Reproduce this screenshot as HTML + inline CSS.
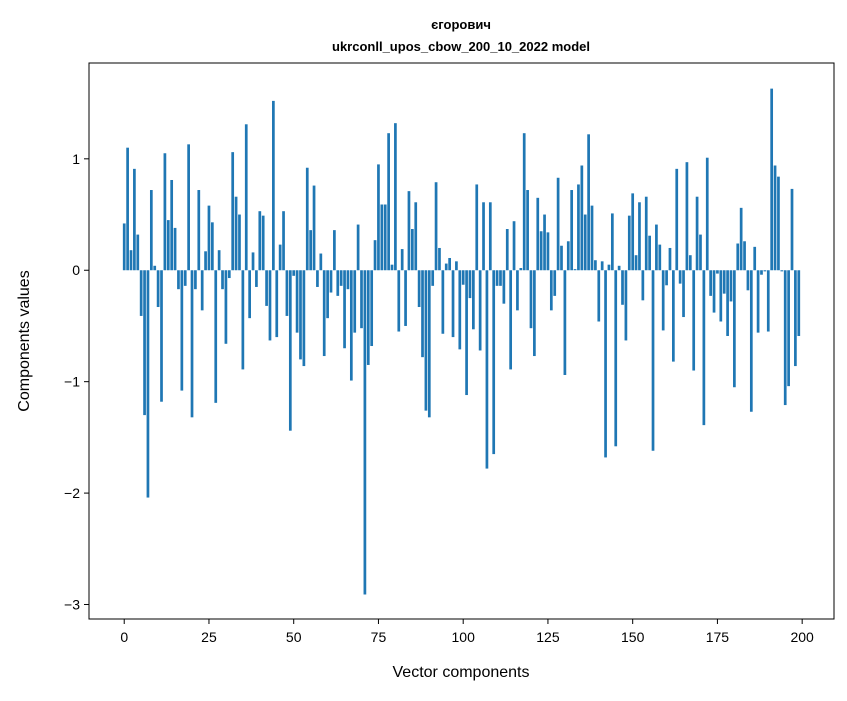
<!DOCTYPE html>
<html><head><meta charset="utf-8"><style>
body{margin:0;background:#fff;}
svg text{font-family:"Liberation Sans","DejaVu Sans",sans-serif;}
</style></head><body>
<svg id="chart" width="847" height="696" xmlns="http://www.w3.org/2000/svg">
<rect width="847" height="696" fill="#fff"/>
<text x="461" y="29" text-anchor="middle" font-size="13" font-weight="bold">єгорович</text>
<text x="461" y="51" text-anchor="middle" font-size="13" font-weight="bold">ukrconll_upos_cbow_200_10_2022 model</text>
<g id="bars"></g>
<rect x="89" y="63" width="745" height="556" fill="none" stroke="#000" stroke-width="1"/>
<g id="xticks"></g>
<g id="yticks"></g>
<text x="461" y="677" text-anchor="middle" font-size="16">Vector components</text>
<text transform="translate(29,341) rotate(-90)" text-anchor="middle" font-size="16">Components values</text>
</svg>
<script>
const values = [0.42,1.10,0.18,0.91,0.32,-0.41,-1.30,-2.04,0.72,0.04,
-0.33,-1.18,1.05,0.45,0.81,0.38,-0.17,-1.08,-0.14,1.13,
-1.32,-0.17,0.72,-0.36,0.17,0.58,0.43,-1.19,0.18,-0.17,
-0.66,-0.07,1.06,0.66,0.50,-0.89,1.31,-0.43,0.16,-0.15,
0.53,0.49,-0.32,-0.63,1.52,-0.60,0.23,0.53,-0.41,-1.44,
-0.05,-0.56,-0.80,-0.86,0.92,0.36,0.76,-0.15,0.15,-0.77,
-0.43,-0.20,0.36,-0.23,-0.14,-0.70,-0.17,-0.99,-0.56,0.41,
-0.52,-2.91,-0.85,-0.68,0.27,0.95,0.59,0.59,1.23,0.05,
1.32,-0.55,0.19,-0.50,0.71,0.37,0.61,-0.33,-0.78,-1.26,
-1.32,-0.14,0.79,0.20,-0.57,0.06,0.11,-0.60,0.08,-0.71,
-0.13,-1.12,-0.25,-0.53,0.77,-0.72,0.61,-1.78,0.61,-1.65,
-0.14,-0.14,-0.30,0.37,-0.89,0.44,-0.36,0.02,1.23,0.72,
-0.52,-0.77,0.65,0.35,0.50,0.34,-0.36,-0.23,0.83,0.22,
-0.94,0.26,0.72,0.01,0.77,0.94,0.50,1.22,0.58,0.09,
-0.46,0.08,-1.68,0.05,0.51,-1.58,0.04,-0.31,-0.63,0.49,
0.69,0.135,0.61,-0.27,0.66,0.31,-1.62,0.41,0.23,-0.54,
-0.135,0.20,-0.82,0.91,-0.12,-0.42,0.97,0.135,-0.90,0.66,
0.32,-1.39,1.01,-0.23,-0.38,-0.03,-0.46,-0.21,-0.59,-0.28,
-1.05,0.24,0.56,0.26,-0.18,-1.27,0.21,-0.56,-0.04,-0.01,
-0.55,1.63,0.94,0.84,-0.01,-1.21,-1.04,0.73,-0.86,-0.59];
const xTicks = [0,25,50,75,100,125,150,175,200];
const yTicks = [-3,-2,-1,0,1];
const yTickLabels = ["\u22123","\u22122","\u22121","0","1"];

const L=89,R=834,T=63,B=619;
const xMin=-10.39,xMax=209.39,yMin=-3.13,yMax=1.86;
const sx=v=>L+(v-xMin)/(xMax-xMin)*(R-L);
const sy=v=>T+(yMax-v)/(yMax-yMin)*(B-T);
const NS="http://www.w3.org/2000/svg";
const bars=document.getElementById('bars');
values.forEach((v,i)=>{
  const r=document.createElementNS(NS,'rect');
  const x0=sx(i-0.4),x1=sx(i+0.4);
  const y0=sy(Math.max(v,0)),y1=sy(Math.min(v,0));
  r.setAttribute('x',x0);r.setAttribute('width',x1-x0);
  r.setAttribute('y',y0);r.setAttribute('height',Math.max(y1-y0,0.3));
  r.setAttribute('fill','#1f77b4');
  
  
  bars.appendChild(r);
});
const xg=document.getElementById('xticks');
xTicks.forEach(t=>{
  const x=sx(t);
  const l=document.createElementNS(NS,'line');
  l.setAttribute('x1',x);l.setAttribute('x2',x);l.setAttribute('y1',B);l.setAttribute('y2',B+5);l.setAttribute('stroke','#000');
  
  
  xg.appendChild(l);
  const tx=document.createElementNS(NS,'text');
  tx.setAttribute('x',x);tx.setAttribute('y',B+23);tx.setAttribute('text-anchor','middle');tx.setAttribute('font-size','14');
  tx.textContent=t;
  
  
  xg.appendChild(tx);
});
const yg=document.getElementById('yticks');
yTicks.forEach((t,i)=>{
  const y=sy(t);
  const l=document.createElementNS(NS,'line');
  l.setAttribute('x1',L-5);l.setAttribute('x2',L);l.setAttribute('y1',y);l.setAttribute('y2',y);l.setAttribute('stroke','#000');
  
  
  yg.appendChild(l);
  const tx=document.createElementNS(NS,'text');
  tx.setAttribute('x',L-9);tx.setAttribute('y',y+5);tx.setAttribute('text-anchor','end');tx.setAttribute('font-size','14');
  tx.textContent=yTickLabels[i];
  
  
  yg.appendChild(tx);
});
</script>
</body></html>
